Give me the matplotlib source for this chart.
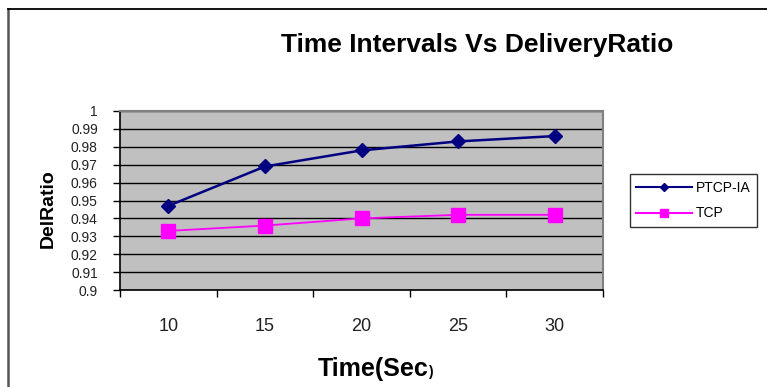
import matplotlib
matplotlib.use("Agg")
import matplotlib.pyplot as plt
from matplotlib.lines import Line2D

categories = ["10", "15", "20", "25", "30"]
ptcp_ia = [0.947, 0.969, 0.978, 0.983, 0.986]
tcp = [0.933, 0.936, 0.940, 0.942, 0.942]
y_ticks = [0.9, 0.91, 0.92, 0.93, 0.94, 0.95, 0.96, 0.97, 0.98, 0.99, 1.0]
y_ticklabels = ["0.9", "0.91", "0.92", "0.93", "0.94", "0.95", "0.96", "0.97", "0.98", "0.99", "1"]

plt.rcParams['font.family'] = ['Liberation Sans', 'DejaVu Sans']

W, H = 767, 387
fig = plt.figure(figsize=(W / 100, H / 100), dpi=100)
ax = fig.add_axes([120 / W, 1 - 290 / H, (603 - 120) / W, (290 - 111) / H])
ax.set_facecolor("#C0C0C0")

x = list(range(len(categories)))
ax.plot(x, ptcp_ia, color="#000080", lw=1.8, marker="D", ms=7, label="PTCP-IA", zorder=3)
ax.plot(x, tcp, color="#FF00FF", lw=1.3, marker="s", ms=10.5, label="TCP", zorder=3)

ax.set_xlim(-0.5, len(categories) - 0.5)
ax.set_ylim(0.9, 1.0)
ax.set_yticks(y_ticks)
ax.set_yticklabels(y_ticklabels)
ax.yaxis.grid(True, color="black", lw=1.0)
ax.set_axisbelow(True)

ax.set_xticks([i - 0.5 for i in range(len(categories) + 1)])
ax.set_xticklabels([])
ax.set_xticks(x, minor=True)
ax.set_xticklabels(categories, minor=True)
ax.tick_params(axis="x", which="major", direction="out", length=5, width=1, color="black")
ax.tick_params(axis="x", which="minor", length=0, pad=20, labelsize=13, labelcolor="#222222")
ax.tick_params(axis="y", direction="out", length=5, width=1, color="black", pad=11, labelsize=10, labelcolor="#222222")

for s in ["top", "right"]:
    ax.spines[s].set_color("#808080")
    ax.spines[s].set_linewidth(1.5)
for s in ["left", "bottom"]:
    ax.spines[s].set_color("black")
    ax.spines[s].set_linewidth(1.2)

fig.text(477 / W, 1 - 45 / H, "Time Intervals Vs DeliveryRatio", ha="center", va="center",
         fontsize=19, fontweight="bold")
fig.text(428 / W, 1 - 376 / H, "Time(Sec", ha="right", va="baseline",
         fontsize=18, fontweight="bold")
fig.text(428.5 / W, 1 - 376 / H, ")", ha="left", va="baseline",
         fontsize=10, fontweight="bold")
fig.text(48 / W, 1 - 209 / H, "DelRatio", ha="center", va="center", rotation=90,
         fontsize=14, fontweight="bold")

handles = [
    Line2D([], [], color="#000080", lw=1.5, marker="D", ms=4.5),
    Line2D([], [], color="#FF00FF", lw=1.5, marker="s", ms=6),
]
leg = fig.legend(handles, ["PTCP-IA", "TCP"], loc="center",
                 bbox_to_anchor=(626 / W, 1 - 228 / H, 135 / W, 55 / H),
                 fontsize=10, frameon=True, fancybox=False, edgecolor="black",
                 handlelength=4.0, handletextpad=0.3, labelspacing=0.85,
                 borderpad=0.45, borderaxespad=0)
leg.get_frame().set_linewidth(1.0)

fig.add_artist(Line2D([8 / W, 8 / W], [0, 1 - 9 / H], color="#555555", lw=1.8, transform=fig.transFigure))
fig.add_artist(Line2D([8 / W, 1], [1 - 9 / H, 1 - 9 / H], color="black", lw=1.3, transform=fig.transFigure))

fig.savefig("out.png", dpi=100)
